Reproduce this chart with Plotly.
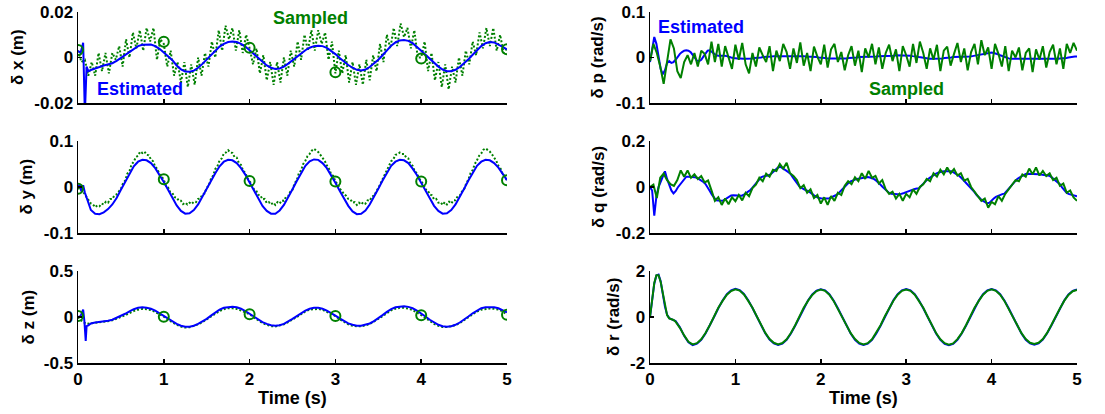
import numpy as np
import plotly.graph_objects as go

# ---------------- DATA ----------------
time_ticks = [0, 1, 2, 3, 4, 5]

# ---- delta x (m) ----
dx_est_t_early = [0.00, 0.03, 0.06, 0.08, 0.10, 0.12, 0.15]
dx_est_early = [0.0030, 0.0020, 0.0065, -0.0250, -0.0040, -0.0060, -0.0055]
dx_est_main = [  # t = 0.20 .. 5.00 step 0.05
    -0.0050, -0.0042, -0.0035, -0.0030, -0.0025, -0.0015, -0.0002, 0.0012, 0.0027, 0.0040,
    0.0050, 0.0056, 0.0058, 0.0057, 0.0050, 0.0038, 0.0022,
    0.0005, -0.0012, -0.0035, -0.0052, -0.0062, -0.0063, -0.0058, -0.0045, -0.0028, -0.0010,
    0.0010, 0.0030, 0.0048, 0.0060, 0.0068, 0.0070, 0.0068, 0.0060, 0.0048, 0.0032,
    0.0015, -0.0003, -0.0020, -0.0035, -0.0045, -0.0050, -0.0048, -0.0040, -0.0027, -0.0012,
    0.0003, 0.0018, 0.0032, 0.0043, 0.0050, 0.0052, 0.0050, 0.0042, 0.0030, 0.0015,
    -0.0002, -0.0018, -0.0033, -0.0045, -0.0054, -0.0057, -0.0053, -0.0042, -0.0027, -0.0010,
    0.0010, 0.0032, 0.0052, 0.0066, 0.0075, 0.0077, 0.0073, 0.0063, 0.0048, 0.0030,
    0.0012, -0.0006, -0.0024, -0.0040, -0.0053, -0.0060, -0.0060, -0.0054, -0.0042, -0.0026,
    -0.0008, 0.0012, 0.0032, 0.0050, 0.0063, 0.0068, 0.0066, 0.0058, 0.0047, 0.0036]
dx_sampled = [  # t = 0 .. 5 step 0.04
    0.003, -0.002, -0.001, -0.008, -0.002, -0.008, 0.002, -0.006, 0.002, -0.007,
    0.002, -0.001, 0.005, -0.004, 0.008, 0.000, 0.011, 0.004, 0.012, 0.003,
    0.013, 0.007, 0.013, -0.001, 0.008, 0.006, -0.004, 0.003, -0.008, -0.002,
    -0.011, -0.002, -0.013, -0.003, -0.012, 0.000, -0.008, 0.002, -0.004, 0.007,
    0.000, 0.012, 0.003, 0.014, 0.008, 0.013, 0.003, 0.012, 0.002, 0.010,
    0.004, -0.003, 0.004, -0.007, 0.001, -0.010, -0.002, -0.012, -0.002, -0.011,
    0.000, -0.008, 0.003, -0.004, 0.007, -0.001, 0.010, 0.003, 0.012, 0.003,
    0.012, 0.006, 0.011, -0.001, 0.007, -0.007, 0.003, -0.007, 0.001, -0.011,
    -0.002, -0.012, -0.003, -0.012, -0.001, -0.010, 0.001, -0.006, 0.006, -0.002,
    0.010, 0.004, 0.013, 0.005, 0.015, 0.009, 0.013, 0.004, 0.012, 0.000,
    0.000, 0.007, -0.006, 0.002, -0.010, -0.002, -0.013, -0.003, -0.014, -0.004,
    -0.011, 0.000, -0.008, 0.003, -0.003, 0.007, 0.001, 0.011, 0.004, 0.013,
    0.005, 0.013, 0.003, 0.010, 0.002, 0.004]
dx_circles = [0.0033, 0.0069, 0.0043, -0.0065, -0.0004, 0.0036]

# ---- delta y (m) ----
dy_est_t_early = [0.00, 0.02, 0.04, 0.06, 0.08, 0.10]
dy_est_early = [0.000, 0.005, -0.010, 0.004, -0.012, -0.022]
dy_est_main = [  # t = 0.15 .. 5.00 step 0.05
    -0.050, -0.058, -0.059, -0.055, -0.048, -0.038, -0.024, -0.006, 0.012, 0.030, 0.045, 0.055,
    0.059, 0.058, 0.052, 0.041, 0.027, 0.011,
    -0.006, -0.024, -0.040, -0.052, -0.058, -0.057, -0.050, -0.038, -0.022, -0.005,
    0.013, 0.030, 0.045, 0.055, 0.059, 0.058, 0.052, 0.041, 0.027, 0.010,
    -0.007, -0.025, -0.041, -0.052, -0.058, -0.058, -0.051, -0.039, -0.023, -0.005,
    0.013, 0.031, 0.046, 0.056, 0.060, 0.059, 0.052, 0.041, 0.026, 0.009,
    -0.008, -0.025, -0.041, -0.053, -0.059, -0.058, -0.051, -0.038, -0.022, -0.004,
    0.014, 0.031, 0.046, 0.055, 0.059, 0.058, 0.052, 0.040, 0.026, 0.009,
    -0.008, -0.025, -0.041, -0.052, -0.058, -0.057, -0.050, -0.038, -0.022, -0.004,
    0.014, 0.031, 0.046, 0.055, 0.059, 0.058, 0.052, 0.042, 0.029, 0.015]
dy_sampled = [  # t = 0 .. 5 step 0.025
    -0.004, -0.002, -0.010, -0.014, -0.022, -0.028, -0.036, -0.038, -0.044, -0.040,
    -0.042, -0.036, -0.038, -0.032, -0.034, -0.026, -0.026, -0.018, -0.016, -0.010,
    -0.004, 0.008, 0.014, 0.029, 0.035, 0.049, 0.055, 0.065, 0.068, 0.077,
    0.074, 0.077, 0.070, 0.069, 0.060, 0.056, 0.044, 0.039, 0.027, 0.023,
    0.016, 0.002, -0.001, -0.011, -0.013, -0.022, -0.023, -0.030, -0.030, -0.037,
    -0.034, -0.038, -0.034, -0.037, -0.032, -0.033, -0.026, -0.025, -0.016, -0.014,
    -0.002, 0.004, 0.018, 0.025, 0.039, 0.045, 0.058, 0.062, 0.073, 0.075,
    0.080, 0.075, 0.074, 0.065, 0.064, 0.052, 0.048, 0.035, 0.031, 0.019,
    0.013, 0.006, -0.005, -0.007, -0.017, -0.018, -0.027, -0.026, -0.035, -0.033,
    -0.038, -0.034, -0.039, -0.033, -0.036, -0.029, -0.030, -0.021, -0.020, -0.010,
    -0.006, 0.008, 0.015, 0.030, 0.036, 0.050, 0.057, 0.067, 0.072, 0.079,
    0.083, 0.080, 0.076, 0.070, 0.064, 0.057, 0.047, 0.040, 0.028, 0.024,
    0.012, 0.006, -0.004, -0.008, -0.016, -0.019, -0.026, -0.027, -0.034, -0.033,
    -0.039, -0.034, -0.038, -0.033, -0.036, -0.029, -0.030, -0.021, -0.019, -0.011,
    -0.003, 0.007, 0.017, 0.026, 0.038, 0.045, 0.056, 0.060, 0.070, 0.071,
    0.075, 0.072, 0.072, 0.064, 0.062, 0.051, 0.046, 0.034, 0.030, 0.019,
    0.012, 0.006, -0.005, -0.007, -0.016, -0.018, -0.027, -0.026, -0.034, -0.033,
    -0.039, -0.033, -0.038, -0.032, -0.036, -0.029, -0.029, -0.020, -0.019, -0.010,
    -0.005, 0.008, 0.016, 0.030, 0.037, 0.050, 0.058, 0.068, 0.073, 0.081,
    0.084, 0.081, 0.077, 0.071, 0.064, 0.057, 0.046, 0.040, 0.028, 0.024,
    0.014]
dy_circles = [-0.004, 0.0167, 0.013, 0.012, 0.012, 0.0145]

# ---- delta z (m) ----
dz_est_t_early = [0.00, 0.03, 0.06, 0.075, 0.09, 0.10, 0.12]
dz_est_early = [0.00, 0.01, 0.08, -0.05, -0.26, -0.10, -0.09]
dz_est_main = [  # t = 0.15 .. 5.00 step 0.05
    -0.070, -0.060, -0.055, -0.050, -0.040, -0.030, -0.010, 0.010, 0.035, 0.060, 0.085, 0.100,
    0.105, 0.100, 0.090, 0.070, 0.040, 0.010,
    -0.020, -0.050, -0.075, -0.095, -0.105, -0.105, -0.095, -0.075, -0.050, -0.020,
    0.015, 0.050, 0.080, 0.100, 0.110, 0.112, 0.105, 0.090, 0.065, 0.035,
    0.005, -0.025, -0.055, -0.075, -0.090, -0.095, -0.090, -0.075, -0.050, -0.020,
    0.010, 0.040, 0.070, 0.090, 0.100, 0.100, 0.090, 0.070, 0.045, 0.015,
    -0.015, -0.045, -0.070, -0.085, -0.095, -0.095, -0.085, -0.070, -0.045, -0.015,
    0.020, 0.055, 0.085, 0.105, 0.115, 0.118, 0.110, 0.095, 0.070, 0.040,
    0.005, -0.030, -0.060, -0.085, -0.100, -0.105, -0.100, -0.085, -0.060, -0.030,
    0.005, 0.040, 0.070, 0.095, 0.105, 0.108, 0.105, 0.095, 0.075, 0.050]
dz_sampled = [  # t = 0 .. 5 step 0.05
    0.000, -0.050, -0.075, -0.070, -0.065, -0.060, -0.055, -0.045, -0.035, -0.020, 0.000,
    0.020, 0.045, 0.065, 0.080, 0.088, 0.085, 0.075, 0.055, 0.030, 0.003,
    -0.030, -0.060, -0.085, -0.105, -0.115, -0.112, -0.100, -0.080, -0.055, -0.025,
    0.005, 0.040, 0.065, 0.085, 0.095, 0.095, 0.088, 0.070, 0.050, 0.030,
    -0.005, -0.035, -0.065, -0.085, -0.100, -0.102, -0.095, -0.080, -0.055, -0.030,
    0.000, 0.030, 0.060, 0.080, 0.088, 0.088, 0.078, 0.058, 0.035, 0.010,
    -0.025, -0.055, -0.080, -0.095, -0.102, -0.100, -0.092, -0.075, -0.050, -0.020,
    0.010, 0.045, 0.072, 0.090, 0.100, 0.100, 0.092, 0.075, 0.050, 0.020,
    -0.010, -0.045, -0.075, -0.095, -0.108, -0.110, -0.102, -0.088, -0.065, -0.035,
    -0.005, 0.030, 0.060, 0.080, 0.090, 0.092, 0.090, 0.080, 0.060, 0.025]
dz_circles = [0.010, 0.003, 0.030, 0.010, 0.020, 0.025]

# ---- delta p (rad/s) ----
dp_est = [  # t = 0 .. 5 step 0.025
    -0.010, 0.015, 0.045, 0.030, 0.000, -0.025, -0.037, -0.028, -0.012, -0.008, -0.012,
    -0.010, -0.005, 0.002, 0.008, 0.012, 0.015, 0.016, 0.015, 0.012, 0.005,
    -0.002, -0.007, -0.008, -0.005, 0.002, 0.010, 0.015, 0.016, 0.012, 0.008,
    0.005, 0.004, 0.004, 0.005, 0.004, 0.003, 0.001, 0.000, -0.001, -0.002,
    -0.002, -0.002, -0.003, -0.003, -0.003, -0.003, -0.002, -0.002, -0.001, -0.001,
    0.000, 0.000, 0.001, 0.001, 0.002, 0.002, 0.002, 0.003, 0.003, 0.003,
    0.003, 0.004, 0.004, 0.004, 0.004, 0.004, 0.004, 0.004, 0.003, 0.003,
    0.003, 0.003, 0.002, 0.002, 0.002, 0.002, 0.001, 0.001, 0.000, 0.000,
    -0.001, -0.001, -0.002, -0.002, -0.002, -0.003, -0.003, -0.003, -0.003, -0.002,
    -0.002, -0.002, -0.001, -0.001, 0.000, 0.000, 0.000, 0.001, 0.001, 0.001,
    0.001, 0.001, 0.002, 0.002, 0.002, 0.002, 0.003, 0.003, 0.003, 0.003,
    0.003, 0.004, 0.004, 0.004, 0.005, 0.005, 0.005, 0.005, 0.005, 0.005,
    0.004, 0.004, 0.003, 0.003, 0.002, 0.001, 0.000, -0.001, -0.002, -0.002,
    -0.003, -0.003, -0.003, -0.003, -0.003, -0.002, -0.002, -0.001, -0.001, 0.000,
    0.000, 0.001, 0.001, 0.001, 0.001, 0.001, 0.002, 0.002, 0.002, 0.002,
    0.003, 0.004, 0.005, 0.006, 0.007, 0.008, 0.009, 0.010, 0.011, 0.011,
    0.010, 0.009, 0.007, 0.005, 0.003, 0.001, -0.001, -0.002, -0.003, -0.003,
    -0.003, -0.004, -0.004, -0.004, -0.004, -0.004, -0.004, -0.004, -0.004, -0.004,
    -0.004, -0.004, -0.004, -0.004, -0.004, -0.004, -0.003, -0.003, -0.003, -0.003,
    -0.003, -0.002, -0.002, -0.001, -0.001, 0.000, 0.001, 0.001, 0.002, 0.002]
dp_sampled = [  # t = 0 .. 5 step 0.04
    -0.008, 0.030, 0.010, -0.020, -0.058, -0.005, 0.040, 0.020, -0.030, -0.045,
    -0.010, 0.005, -0.015, 0.010, -0.020, 0.015, 0.008, -0.015, 0.035, -0.010,
    0.030, -0.020, 0.025, 0.000, -0.025, 0.028, -0.005, 0.032, -0.015, -0.035,
    0.010, -0.020, 0.022, 0.005, -0.010, 0.025, -0.030, 0.015, -0.008, 0.030,
    0.012, -0.025, 0.020, -0.012, 0.033, -0.018, 0.010, -0.030, 0.024, 0.002,
    -0.015, 0.028, -0.022, 0.018, 0.030, -0.010, 0.012, -0.028, 0.005, 0.025,
    -0.018, 0.015, -0.032, 0.020, 0.000, 0.030, -0.015, 0.022, -0.025, 0.010,
    0.028, -0.008, 0.018, -0.030, 0.025, 0.005, -0.020, 0.030, -0.012, 0.035,
    0.010, -0.025, 0.020, -0.005, 0.028, -0.030, 0.015, 0.024, -0.018, 0.008,
    0.032, -0.010, 0.020, -0.028, 0.012, 0.030, -0.015, 0.038, 0.005, 0.022,
    -0.025, 0.030, 0.008, -0.020, 0.025, -0.030, 0.015, 0.000, 0.022, -0.028,
    0.010, 0.020, -0.032, 0.018, -0.005, 0.025, -0.022, 0.012, 0.028, -0.015,
    0.020, -0.025, 0.030, 0.010, 0.032, 0.015]

# ---- delta q (rad/s) ----
dq_est = [  # t = 0 .. 5 step 0.025
    0.000, -0.015, -0.125, -0.040, 0.000, 0.025, 0.050, 0.068, 0.035, 0.005, -0.015,
    -0.028, -0.018, -0.002, 0.010, 0.025, 0.038, 0.045, 0.045, 0.045, 0.045,
    0.042, 0.040, 0.035, 0.030, 0.022, 0.013, 0.000, -0.017, -0.033, -0.047,
    -0.058, -0.059, -0.060, -0.060, -0.055, -0.050, -0.043, -0.037, -0.036, -0.037,
    -0.039, -0.040, -0.038, -0.033, -0.027, -0.020, -0.013, -0.003, 0.008, 0.020,
    0.031, 0.042, 0.046, 0.048, 0.050, 0.052, 0.060, 0.068, 0.078, 0.085,
    0.088, 0.083, 0.078, 0.070, 0.063, 0.055, 0.040, 0.028, 0.015, 0.002,
    -0.004, -0.010, -0.014, -0.017, -0.022, -0.030, -0.038, -0.044, -0.048, -0.049,
    -0.050, -0.050, -0.050, -0.049, -0.045, -0.042, -0.036, -0.030, -0.020, -0.010,
    0.000, 0.012, 0.018, 0.024, 0.029, 0.032, 0.035, 0.037, 0.038, 0.040,
    0.041, 0.043, 0.041, 0.038, 0.034, 0.027, 0.020, 0.010, 0.000, -0.008,
    -0.018, -0.026, -0.029, -0.031, -0.032, -0.032, -0.032, -0.030, -0.026, -0.022,
    -0.018, -0.014, -0.011, -0.009, -0.007, -0.006, 0.005, 0.015, 0.024, 0.033,
    0.040, 0.047, 0.054, 0.058, 0.062, 0.066, 0.068, 0.069, 0.070, 0.070,
    0.069, 0.065, 0.060, 0.054, 0.047, 0.038, 0.028, 0.020, 0.009, -0.002,
    -0.012, -0.022, -0.035, -0.045, -0.053, -0.060, -0.066, -0.071, -0.068, -0.058,
    -0.050, -0.043, -0.038, -0.034, -0.031, -0.029, -0.018, -0.005, 0.006, 0.018,
    0.027, 0.035, 0.041, 0.047, 0.052, 0.057, 0.058, 0.058, 0.058, 0.057,
    0.056, 0.055, 0.054, 0.053, 0.053, 0.051, 0.049, 0.043, 0.036, 0.029,
    0.023, 0.012, -0.002, -0.014, -0.024, -0.030, -0.032, -0.035, -0.038, -0.040]
dq_sampled = [  # t = 0 .. 5 step 0.04
    0.000, 0.010, -0.048, 0.040, 0.058, 0.030, 0.012, 0.005, 0.030, 0.072,
    0.045, 0.072, 0.040, 0.055, 0.035, 0.048, 0.020, 0.028, -0.015, -0.060,
    -0.045, -0.078, -0.050, -0.075, -0.045, -0.062, -0.035, -0.058, -0.025, -0.040,
    -0.005, 0.010, 0.040, 0.025, 0.058, 0.045, 0.075, 0.070, 0.100, 0.080,
    0.105, 0.060, 0.048, 0.030, -0.005, 0.008, -0.025, -0.010, -0.048, -0.035,
    -0.072, -0.045, -0.078, -0.040, -0.060, -0.025, -0.035, 0.005, 0.025, 0.012,
    0.042, 0.025, 0.060, 0.035, 0.070, 0.040, 0.048, 0.015, 0.030, -0.010,
    -0.030, -0.020, -0.050, -0.030, -0.060, -0.030, -0.045, -0.010, -0.030, 0.000,
    0.012, 0.035, 0.025, 0.060, 0.045, 0.075, 0.055, 0.085, 0.060, 0.078,
    0.050, 0.060, 0.028, 0.035, 0.000, -0.020, -0.035, -0.060, -0.050, -0.090,
    -0.065, -0.075, -0.040, -0.060, -0.030, -0.010, 0.010, 0.030, 0.025, 0.055,
    0.045, 0.080, 0.055, 0.085, 0.050, 0.070, 0.048, 0.060, 0.030, 0.040,
    0.005, 0.015, -0.025, -0.015, -0.045, -0.060]

# ---- delta r (rad/s) ----
dr_t_early = [0.000, 0.025, 0.050, 0.075, 0.100, 0.125, 0.150, 0.175, 0.200, 0.225, 0.250, 0.275]
dr_est_early = [0.00, 0.75, 1.45, 1.80, 1.84, 1.55, 1.00, 0.45, 0.10, -0.05, -0.09, -0.12]
dr_est_main = [  # t = 0.30 .. 5.00 step 0.05
    -0.18, -0.45, -0.82, -1.10, -1.22, -1.16, -0.99, -0.72, -0.38, 0.00, 0.38, 0.72, 0.99, 1.16, 1.23,
    1.17, 1.00, 0.73, 0.39, 0.01, -0.37, -0.71, -0.98, -1.15, -1.22,
    -1.16, -0.99, -0.72, -0.38, 0.00, 0.38, 0.72, 0.98, 1.15, 1.21,
    1.16, 0.99, 0.72, 0.38, 0.00, -0.38, -0.72, -0.99, -1.16, -1.22,
    -1.16, -0.99, -0.72, -0.38, 0.01, 0.39, 0.73, 0.99, 1.16, 1.22,
    1.16, 0.99, 0.72, 0.38, 0.00, -0.38, -0.72, -0.99, -1.17, -1.23,
    -1.17, -0.99, -0.72, -0.38, 0.00, 0.38, 0.72, 0.99, 1.16, 1.22,
    1.16, 0.99, 0.72, 0.38, 0.00, -0.38, -0.72, -0.99, -1.15, -1.20,
    -1.15, -0.98, -0.71, -0.37, 0.01, 0.39, 0.72, 0.98, 1.14, 1.20]
dr_sam_early = [0.00, 0.78, 1.48, 1.82, 1.82, 1.52, 0.98, 0.44, 0.08, -0.06, -0.08, -0.13]
dr_sam_main = [  # t = 0.30 .. 5.00 step 0.05
    -0.20, -0.47, -0.80, -1.08, -1.19, -1.14, -0.97, -0.70, -0.36, 0.02, 0.40, 0.70, 0.97, 1.13, 1.20,
    1.15, 0.98, 0.70, 0.40, 0.03, -0.35, -0.69, -0.96, -1.12, -1.19,
    -1.13, -0.97, -0.70, -0.36, 0.02, 0.40, 0.70, 0.96, 1.13, 1.19,
    1.14, 0.97, 0.70, 0.36, 0.02, -0.36, -0.70, -0.96, -1.13, -1.19,
    -1.14, -0.97, -0.69, -0.36, 0.03, 0.37, 0.71, 0.97, 1.14, 1.19,
    1.14, 0.97, 0.70, 0.40, 0.02, -0.36, -0.70, -0.97, -1.14, -1.20,
    -1.15, -0.96, -0.70, -0.36, 0.02, 0.40, 0.70, 0.97, 1.14, 1.20,
    1.14, 0.97, 0.70, 0.36, 0.02, -0.36, -0.70, -0.96, -1.12, -1.17,
    -1.12, -0.96, -0.69, -0.35, 0.03, 0.37, 0.70, 0.96, 1.12, 1.18]

# axis ticks / labels
y_ticks = {
    "dx": ([-0.02, 0, 0.02], ["-0.02", "0", "0.02"]),
    "dy": ([-0.1, 0, 0.1], ["-0.1", "0", "0.1"]),
    "dz": ([-0.5, 0, 0.5], ["-0.5", "0", "0.5"]),
    "dp": ([-0.1, 0, 0.1], ["-0.1", "0", "0.1"]),
    "dq": ([-0.2, 0, 0.2], ["-0.2", "0", "0.2"]),
    "dr": ([-2, 0, 2], ["-2", "0", "2"]),
}
y_titles = {"dx": "δ x (m)", "dy": "δ y (m)", "dz": "δ z (m)",
            "dp": "δ p (rad/s)", "dq": "δ q (rad/s)", "dr": "δ r (rad/s)"}

# ---------------- helpers ----------------
def uniform_t(vals, t0, t1):
    return list(np.linspace(t0, t1, len(vals)))

def main_t(vals, t0):
    return list(np.linspace(t0, 5.0, len(vals)))

BLUE = "#0000FF"
GREEN = "#008000"
FONT = "Liberation Sans, Arial, Helvetica, sans-serif"
W, H = 1105, 414

def fx(p):
    return p / W

def fy(p):
    return 1 - p / H

XDOM = {"L": [fx(78), fx(507)], "R": [fx(650), fx(1077)]}
YDOM = [[fy(103), fy(12)], [fy(233), fy(141)], [fy(363), fy(271)]]

panels = [  # key, column, row, axis index
    ("dx", "L", 0, 1), ("dp", "R", 0, 2),
    ("dy", "L", 1, 3), ("dq", "R", 1, 4),
    ("dz", "L", 2, 5), ("dr", "R", 2, 6),
]

fig = go.Figure()

def add(idx, x, y, **kw):
    s = "" if idx == 1 else str(idx)
    fig.add_trace(go.Scatter(x=x, y=y, xaxis="x" + s, yaxis="y" + s,
                             showlegend=False, hoverinfo="skip", **kw))

dotted = dict(mode="lines", line=dict(color=GREEN, width=2, dash="2px,2px"))
solid_g = dict(mode="lines", line=dict(color=GREEN, width=2))
solid_b = dict(mode="lines", line=dict(color=BLUE, width=2))
circ = dict(mode="markers", marker=dict(symbol="circle-open", size=10, color=GREEN,
                                        line=dict(color=GREEN, width=2)))

# dx
add(1, uniform_t(dx_sampled, 0, 5), dx_sampled, **dotted)
add(1, dx_est_t_early + main_t(dx_est_main, 0.20), dx_est_early + dx_est_main, **solid_b)
add(1, time_ticks, dx_circles, **circ)
# dy
add(3, uniform_t(dy_sampled, 0, 5), dy_sampled, **dotted)
add(3, dy_est_t_early + main_t(dy_est_main, 0.15), dy_est_early + dy_est_main, **solid_b)
add(3, time_ticks, dy_circles, **circ)
# dz
add(5, uniform_t(dz_sampled, 0, 5), dz_sampled, **dotted)
add(5, dz_est_t_early + main_t(dz_est_main, 0.15), dz_est_early + dz_est_main, **solid_b)
add(5, time_ticks, dz_circles, **circ)
# dp
add(2, uniform_t(dp_est, 0, 5), dp_est, **solid_b)
add(2, uniform_t(dp_sampled, 0, 5), dp_sampled, **solid_g)
# dq
add(4, uniform_t(dq_est, 0, 5), dq_est, **solid_b)
add(4, uniform_t(dq_sampled, 0, 5), dq_sampled, **solid_g)
# dr
add(6, dr_t_early + main_t(dr_est_main, 0.30), dr_est_early + dr_est_main, **solid_b)
add(6, dr_t_early + main_t(dr_sam_main, 0.30), dr_sam_early + dr_sam_main, **solid_g)

tickfont = dict(family=FONT, size=17, color="black", weight="bold")
layout = dict(width=W, height=H, margin=dict(l=0, r=0, t=0, b=0),
              paper_bgcolor="white", plot_bgcolor="white", showlegend=False)

for key, col, row, idx in panels:
    s = "" if idx == 1 else str(idx)
    tv, tt = y_ticks[key]
    layout["xaxis" + s] = dict(
        domain=XDOM[col], anchor="y" + s, range=[0, 5], tickvals=time_ticks,
        ticktext=[str(v) for v in time_ticks], showticklabels=(row == 2),
        ticks="inside", ticklen=4, tickwidth=1.5, tickcolor="black",
        showline=True, linecolor="black", linewidth=1.5, showgrid=False,
        zeroline=False, tickfont=tickfont, automargin=False, fixedrange=True)
    layout["yaxis" + s] = dict(
        domain=YDOM[row], anchor="x" + s, range=[tv[0], tv[-1]], tickvals=tv,
        ticktext=tt, ticks="inside", ticklen=4, tickwidth=1.5, tickcolor="black",
        showline=True, linecolor="black", linewidth=1.5, showgrid=False,
        zeroline=False, tickfont=tickfont, automargin=False, fixedrange=True)

fig.update_layout(**layout)

ann = []
title_pos = {"dx": (17.5, 57.5), "dy": (25.5, 187), "dz": (27.5, 317),
             "dp": (597, 57.5), "dq": (598, 187), "dr": (613, 317)}
for key, (px, py) in title_pos.items():
    ann.append(dict(x=fx(px), y=fy(py), xref="paper", yref="paper", text=y_titles[key],
                    textangle=-90, showarrow=False, xanchor="center", yanchor="middle",
                    font=dict(family=FONT, size=17, color="black", weight="bold")))
for cx in (292.5, 863.5):
    ann.append(dict(x=fx(cx), y=fy(398), xref="paper", yref="paper", text="Time (s)",
                    showarrow=False, xanchor="center", yanchor="middle",
                    font=dict(family=FONT, size=18, color="black", weight="bold")))
labels = [("Sampled", GREEN, 310.5, 18), ("Estimated", BLUE, 139.5, 89),
          ("Estimated", BLUE, 700.5, 27), ("Sampled", GREEN, 906, 89)]
for txt, c, px, py in labels:
    ann.append(dict(x=fx(px), y=fy(py), xref="paper", yref="paper", text=txt,
                    showarrow=False, xanchor="center", yanchor="middle",
                    font=dict(family=FONT, size=18, color=c, weight="bold")))
fig.update_layout(annotations=ann)

fig.write_html("out.html", config={"displayModeBar": False, "staticPlot": True},
               post_script="document.body.style.margin='0px';")
